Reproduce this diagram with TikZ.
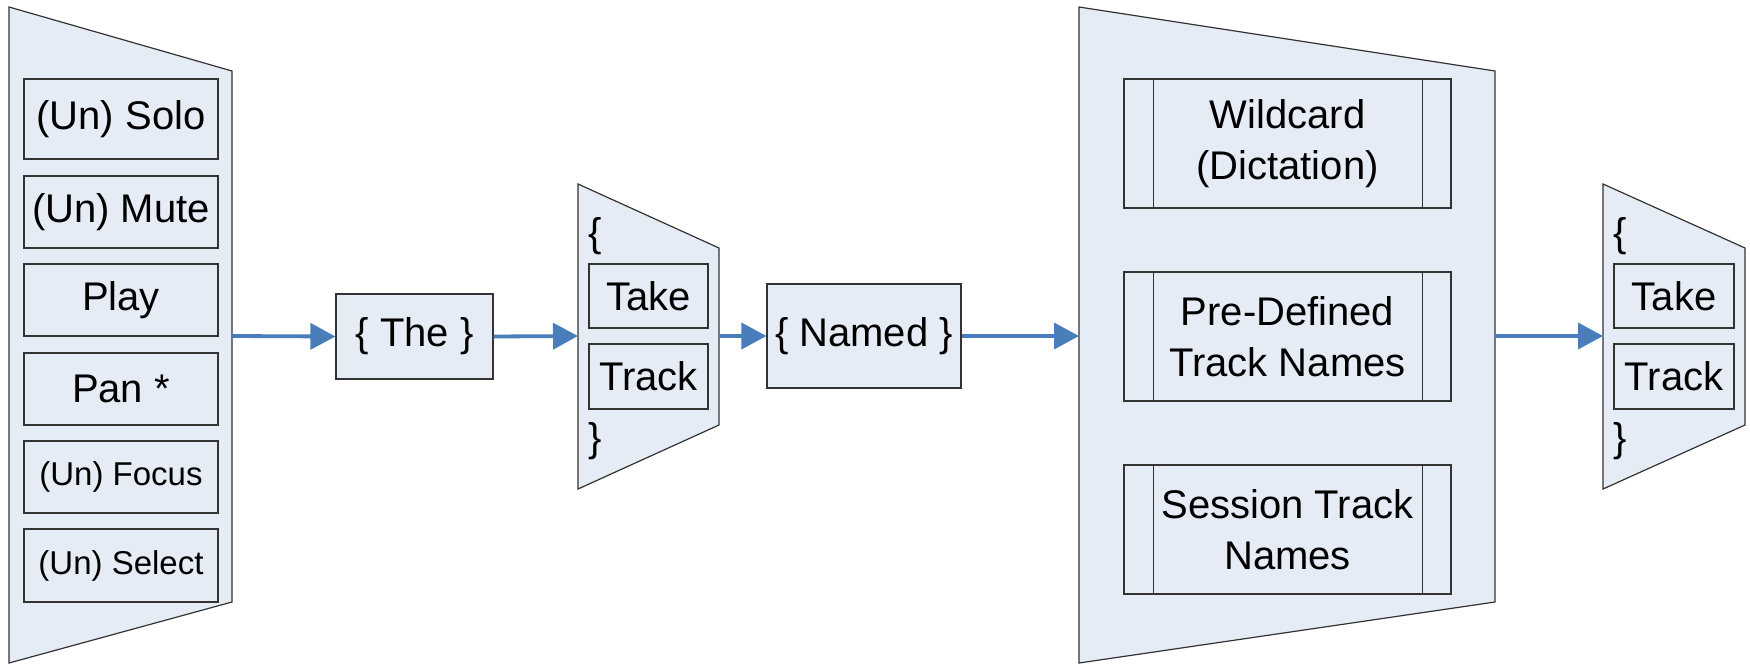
\documentclass[tikz,border=0pt]{standalone}
\usepackage{fontspec}
\setmainfont{Liberation Sans}
\usetikzlibrary{arrows.meta, calc, positioning}

\definecolor{panefill}{RGB}{230,236,246}
\definecolor{flowblue}{RGB}{74,126,187}

\begin{document}
\begin{tikzpicture}[
    x=1pt, y=-1pt,
    pane/.style={draw=black!80, fill=panefill, line width=1.2pt},
    word/.style={draw=black!80, fill=panefill, line width=1.2pt, rectangle, align=center, inner sep=0pt, font=\fontsize{40}{51}\selectfont},
    small word/.style={word, font=\fontsize{33}{40}\selectfont},
    brace/.style={inner sep=0pt, anchor=west, font=\fontsize{40}{51}\selectfont},
    flow/.style={draw=flowblue, line width=3.8pt, -{Triangle[length=25pt, width=26pt]}}
]
\useasboundingbox (0,0) rectangle (1750,664);

% command column
\draw[pane] (9,7) -- (232,71) -- (232,602) -- (9,663) -- cycle;
\coordinate (cmdout) at (232,336);
\node[word, minimum width=194pt, minimum height=80pt] (solo) at (121,119) {(Un) Solo};
\node[word, minimum width=194pt, minimum height=72pt] (mute) at (121,212) {(Un) Mute};
\node[word, minimum width=194pt, minimum height=72pt] (play) at (121,300) {Play};
\node[word, minimum width=194pt, minimum height=72pt] (pan) at (121,389) {Pan *};
\node[small word, minimum width=194pt, minimum height=72pt] (focus) at (121,477) {(Un) Focus};
\node[small word, minimum width=194pt, minimum height=73pt] (select) at (121,565.5) {(Un) Select};

% article
\node[word, minimum width=157pt, minimum height=85pt] (the) at (414.5,336.5) {\{ The \}};

% first take/track choice
\draw[pane] (578,184) -- (719,248) -- (719,425) -- (578,489) -- cycle;
\coordinate (pickin) at (578,336);
\coordinate (pickout) at (719,336);
\node[brace] (pickopen) at (588,236) {\{};
\node[word, minimum width=119pt, minimum height=64pt] (take) at (648.5,296) {Take};
\node[word, minimum width=119pt, minimum height=65pt] (track) at (648.5,376.5) {Track};
\node[brace] (pickclose) at (588,441) {\}};

% named
\node[word, minimum width=194pt, minimum height=104pt] (named) at (864,336) {\{ Named \}};

% name sources
\draw[pane] (1079,7) -- (1495,71) -- (1495,602) -- (1079,663) -- cycle;
\coordinate (srcin) at (1079,336);
\coordinate (srcout) at (1495,336);
\node[word, minimum width=327pt, minimum height=129pt] (wild) at (1287.5,143.5) {Wildcard\\(Dictation)};
\node[word, minimum width=327pt, minimum height=129pt] (predef) at (1287.5,336.5) {Pre-Defined\\Track Names};
\node[word, minimum width=327pt, minimum height=129pt] (session) at (1287.5,529.5) {Session Track\\Names};
\foreach \p in {wild, predef, session} {
    \draw[black!80, line width=1.2pt] ($(\p.north west)+(30,0)$) -- ($(\p.south west)+(30,0)$);
    \draw[black!80, line width=1.2pt] ($(\p.north east)+(-29,0)$) -- ($(\p.south east)+(-29,0)$);
}

% second take/track choice
\draw[pane] (1603,184) -- (1745,248) -- (1745,425) -- (1603,489) -- cycle;
\coordinate (endin) at (1603,336);
\node[brace] (endopen) at (1613,236) {\{};
\node[word, minimum width=120pt, minimum height=64pt] (take2) at (1674,296) {Take};
\node[word, minimum width=120pt, minimum height=65pt] (track2) at (1674,376.5) {Track};
\node[brace] (endclose) at (1613,441) {\}};

% flow
\draw[flow] (cmdout) -- (the.west);
\draw[flow] (the.east) -- (pickin);
\draw[flow] (pickout) -- (named.west);
\draw[flow] (named.east) -- (srcin);
\draw[flow] (srcout) -- (endin);

\end{tikzpicture}
\end{document}
